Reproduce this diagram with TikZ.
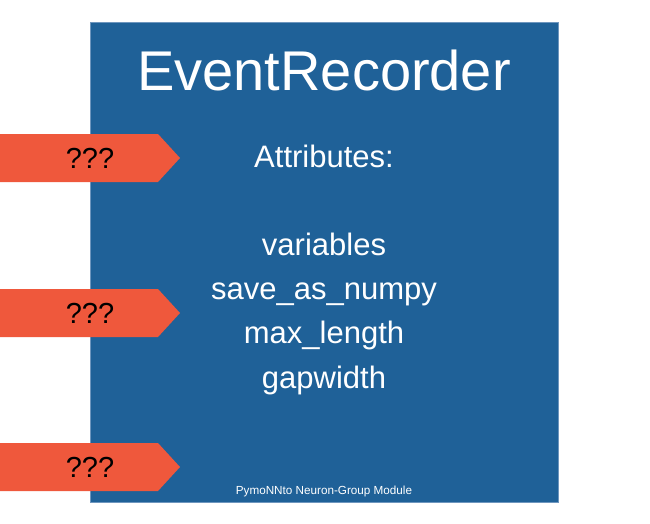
\documentclass[tikz,border=0pt]{standalone}
\usepackage{fontspec}
\setmainfont{Liberation Sans}
\definecolor{modblue}{RGB}{31,97,152}
\definecolor{modedge}{RGB}{110,150,190}
\definecolor{portred}{RGB}{239,88,60}
\begin{document}
\begin{tikzpicture}[x=1pt, y=-1pt,
    port/.style={text=black, inner sep=0pt, font=\fontsize{29}{34}\selectfont},
    attr/.style={text=white, text height=22pt, text depth=7pt, font=\fontsize{31}{36}\selectfont}]
    \useasboundingbox (0,0) rectangle (650,524);
    \fill[modblue] (90,22) rectangle (558,502);
    \draw[modedge, line width=0.8pt] (90,22) rectangle (558,502);
    \node[text=white, font=\fontsize{56}{64}\selectfont] (title) at (324,70) {EventRecorder};
    \node[attr] (head) at (324,160) {Attributes:};
    \node[attr] (a1) at (324,248) {variables};
    \node[attr] (a2) at (324,292) {save\_as\_numpy};
    \node[attr] (a3) at (324,336) {max\_length};
    \node[attr] (a4) at (324,381) {gapwidth};
    \node[text=white, font=\fontsize{11.7}{14}\selectfont] (foot) at (324,491) {PymoNNto Neuron-Group Module};
    % input ports
    \foreach \i/\y in {1/158, 2/313, 3/467} {
      \fill[portred] (0,\y-24) -- (158,\y-24) -- (180,\y) -- (158,\y+24) -- (0,\y+24) -- cycle;
      \node[port] (p\i) at (90,\y) {???};
    }
\end{tikzpicture}
\end{document}
